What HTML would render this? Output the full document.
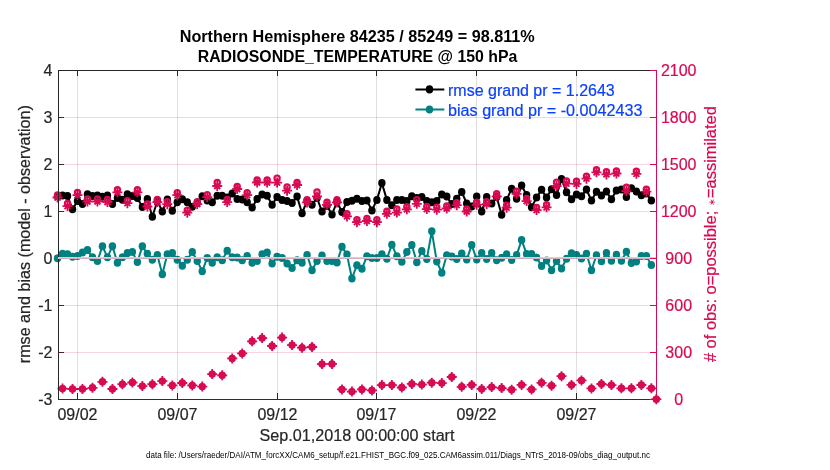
<!DOCTYPE html>
<html><head><meta charset="utf-8"><style>
html,body{margin:0;padding:0;background:#fff;width:830px;height:470px;overflow:hidden;font-family:"Liberation Sans",sans-serif}
</style></head><body>
<svg width="830" height="470" viewBox="0 0 830 470" style="display:block;will-change:transform">
<rect width="830" height="470" fill="#fff"/>
<polyline points="57.54,196 62.53,195.6 67.52,196.1 72.51,209.3 77.5,201 82.49,203.9 87.48,194.3 92.47,196.1 97.46,195.5 102.45,196.7 107.44,195.5 112.43,203.9 117.42,197.9 122.41,199.7 127.4,194.3 132.39,196.1 137.38,197.9 142.37,206.9 147.36,198.9 152.35,216.7 157.34,201 162.33,211.4 167.32,199.6 172.31,210.8 177.3,202.3 182.29,199.3 187.28,202.3 192.27,206.8 197.26,203 202.25,196.3 207.24,200.5 212.23,202.3 217.22,195.7 222.21,195.7 227.2,197.5 232.19,193.5 237.18,199.1 242.17,199.4 247.16,202.3 252.15,207.5 257.14,199.1 262.13,194.5 267.12,195.7 272.11,204.7 277.1,196.9 282.09,199.9 287.08,201.1 292.07,202.9 297.06,196.6 302.05,213.2 307.04,201 312.03,204.7 317.02,198 322.01,211.6 327,206 331.99,214.4 336.98,202 341.97,212 346.96,202 351.95,200.8 356.94,198.7 361.93,201.1 366.92,200.5 371.91,210.4 376.9,199.9 381.89,183.1 386.88,199.9 391.87,205.3 396.86,199.9 401.85,199.9 406.84,201.1 411.83,196.3 416.82,198.1 421.81,197 426.8,201.1 431.79,202.3 436.78,201.1 441.77,194.5 446.76,196.6 451.75,204.1 456.74,198.7 461.73,191.9 466.72,203.5 471.71,206.6 476.7,196.6 481.69,211.4 486.68,196.9 491.67,203.5 496.66,197 501.65,214.7 506.64,199.9 511.63,188.7 516.62,198.8 521.61,185.5 526.6,195 531.59,207.2 536.58,197.6 541.57,189.8 546.56,197.6 551.55,189.2 556.54,194.9 561.53,179 566.52,192.2 571.51,199.2 576.5,194.6 581.49,196.2 586.48,189.6 591.47,200.5 596.46,191.7 601.45,195.6 606.44,191.6 611.43,199.3 616.42,190.6 621.41,189.4 626.4,197 631.39,188.3 636.38,191.6 641.37,195.2 646.36,193.4 651.35,200.5" fill="none" stroke="#000" stroke-width="2" stroke-linejoin="round"/>
<g fill="#000"><ellipse cx="57.54" cy="196" rx="3.7" ry="4"/><ellipse cx="62.53" cy="195.6" rx="3.7" ry="4"/><ellipse cx="67.52" cy="196.1" rx="3.7" ry="4"/><ellipse cx="72.51" cy="209.3" rx="3.7" ry="4"/><ellipse cx="77.5" cy="201" rx="3.7" ry="4"/><ellipse cx="82.49" cy="203.9" rx="3.7" ry="4"/><ellipse cx="87.48" cy="194.3" rx="3.7" ry="4"/><ellipse cx="92.47" cy="196.1" rx="3.7" ry="4"/><ellipse cx="97.46" cy="195.5" rx="3.7" ry="4"/><ellipse cx="102.45" cy="196.7" rx="3.7" ry="4"/><ellipse cx="107.44" cy="195.5" rx="3.7" ry="4"/><ellipse cx="112.43" cy="203.9" rx="3.7" ry="4"/><ellipse cx="117.42" cy="197.9" rx="3.7" ry="4"/><ellipse cx="122.41" cy="199.7" rx="3.7" ry="4"/><ellipse cx="127.4" cy="194.3" rx="3.7" ry="4"/><ellipse cx="132.39" cy="196.1" rx="3.7" ry="4"/><ellipse cx="137.38" cy="197.9" rx="3.7" ry="4"/><ellipse cx="142.37" cy="206.9" rx="3.7" ry="4"/><ellipse cx="147.36" cy="198.9" rx="3.7" ry="4"/><ellipse cx="152.35" cy="216.7" rx="3.7" ry="4"/><ellipse cx="157.34" cy="201" rx="3.7" ry="4"/><ellipse cx="162.33" cy="211.4" rx="3.7" ry="4"/><ellipse cx="167.32" cy="199.6" rx="3.7" ry="4"/><ellipse cx="172.31" cy="210.8" rx="3.7" ry="4"/><ellipse cx="177.3" cy="202.3" rx="3.7" ry="4"/><ellipse cx="182.29" cy="199.3" rx="3.7" ry="4"/><ellipse cx="187.28" cy="202.3" rx="3.7" ry="4"/><ellipse cx="192.27" cy="206.8" rx="3.7" ry="4"/><ellipse cx="197.26" cy="203" rx="3.7" ry="4"/><ellipse cx="202.25" cy="196.3" rx="3.7" ry="4"/><ellipse cx="207.24" cy="200.5" rx="3.7" ry="4"/><ellipse cx="212.23" cy="202.3" rx="3.7" ry="4"/><ellipse cx="217.22" cy="195.7" rx="3.7" ry="4"/><ellipse cx="222.21" cy="195.7" rx="3.7" ry="4"/><ellipse cx="227.2" cy="197.5" rx="3.7" ry="4"/><ellipse cx="232.19" cy="193.5" rx="3.7" ry="4"/><ellipse cx="237.18" cy="199.1" rx="3.7" ry="4"/><ellipse cx="242.17" cy="199.4" rx="3.7" ry="4"/><ellipse cx="247.16" cy="202.3" rx="3.7" ry="4"/><ellipse cx="252.15" cy="207.5" rx="3.7" ry="4"/><ellipse cx="257.14" cy="199.1" rx="3.7" ry="4"/><ellipse cx="262.13" cy="194.5" rx="3.7" ry="4"/><ellipse cx="267.12" cy="195.7" rx="3.7" ry="4"/><ellipse cx="272.11" cy="204.7" rx="3.7" ry="4"/><ellipse cx="277.1" cy="196.9" rx="3.7" ry="4"/><ellipse cx="282.09" cy="199.9" rx="3.7" ry="4"/><ellipse cx="287.08" cy="201.1" rx="3.7" ry="4"/><ellipse cx="292.07" cy="202.9" rx="3.7" ry="4"/><ellipse cx="297.06" cy="196.6" rx="3.7" ry="4"/><ellipse cx="302.05" cy="213.2" rx="3.7" ry="4"/><ellipse cx="307.04" cy="201" rx="3.7" ry="4"/><ellipse cx="312.03" cy="204.7" rx="3.7" ry="4"/><ellipse cx="317.02" cy="198" rx="3.7" ry="4"/><ellipse cx="322.01" cy="211.6" rx="3.7" ry="4"/><ellipse cx="327" cy="206" rx="3.7" ry="4"/><ellipse cx="331.99" cy="214.4" rx="3.7" ry="4"/><ellipse cx="336.98" cy="202" rx="3.7" ry="4"/><ellipse cx="341.97" cy="212" rx="3.7" ry="4"/><ellipse cx="346.96" cy="202" rx="3.7" ry="4"/><ellipse cx="351.95" cy="200.8" rx="3.7" ry="4"/><ellipse cx="356.94" cy="198.7" rx="3.7" ry="4"/><ellipse cx="361.93" cy="201.1" rx="3.7" ry="4"/><ellipse cx="366.92" cy="200.5" rx="3.7" ry="4"/><ellipse cx="371.91" cy="210.4" rx="3.7" ry="4"/><ellipse cx="376.9" cy="199.9" rx="3.7" ry="4"/><ellipse cx="381.89" cy="183.1" rx="3.7" ry="4"/><ellipse cx="386.88" cy="199.9" rx="3.7" ry="4"/><ellipse cx="391.87" cy="205.3" rx="3.7" ry="4"/><ellipse cx="396.86" cy="199.9" rx="3.7" ry="4"/><ellipse cx="401.85" cy="199.9" rx="3.7" ry="4"/><ellipse cx="406.84" cy="201.1" rx="3.7" ry="4"/><ellipse cx="411.83" cy="196.3" rx="3.7" ry="4"/><ellipse cx="416.82" cy="198.1" rx="3.7" ry="4"/><ellipse cx="421.81" cy="197" rx="3.7" ry="4"/><ellipse cx="426.8" cy="201.1" rx="3.7" ry="4"/><ellipse cx="431.79" cy="202.3" rx="3.7" ry="4"/><ellipse cx="436.78" cy="201.1" rx="3.7" ry="4"/><ellipse cx="441.77" cy="194.5" rx="3.7" ry="4"/><ellipse cx="446.76" cy="196.6" rx="3.7" ry="4"/><ellipse cx="451.75" cy="204.1" rx="3.7" ry="4"/><ellipse cx="456.74" cy="198.7" rx="3.7" ry="4"/><ellipse cx="461.73" cy="191.9" rx="3.7" ry="4"/><ellipse cx="466.72" cy="203.5" rx="3.7" ry="4"/><ellipse cx="471.71" cy="206.6" rx="3.7" ry="4"/><ellipse cx="476.7" cy="196.6" rx="3.7" ry="4"/><ellipse cx="481.69" cy="211.4" rx="3.7" ry="4"/><ellipse cx="486.68" cy="196.9" rx="3.7" ry="4"/><ellipse cx="491.67" cy="203.5" rx="3.7" ry="4"/><ellipse cx="496.66" cy="197" rx="3.7" ry="4"/><ellipse cx="501.65" cy="214.7" rx="3.7" ry="4"/><ellipse cx="506.64" cy="199.9" rx="3.7" ry="4"/><ellipse cx="511.63" cy="188.7" rx="3.7" ry="4"/><ellipse cx="516.62" cy="198.8" rx="3.7" ry="4"/><ellipse cx="521.61" cy="185.5" rx="3.7" ry="4"/><ellipse cx="526.6" cy="195" rx="3.7" ry="4"/><ellipse cx="531.59" cy="207.2" rx="3.7" ry="4"/><ellipse cx="536.58" cy="197.6" rx="3.7" ry="4"/><ellipse cx="541.57" cy="189.8" rx="3.7" ry="4"/><ellipse cx="546.56" cy="197.6" rx="3.7" ry="4"/><ellipse cx="551.55" cy="189.2" rx="3.7" ry="4"/><ellipse cx="556.54" cy="194.9" rx="3.7" ry="4"/><ellipse cx="561.53" cy="179" rx="3.7" ry="4"/><ellipse cx="566.52" cy="192.2" rx="3.7" ry="4"/><ellipse cx="571.51" cy="199.2" rx="3.7" ry="4"/><ellipse cx="576.5" cy="194.6" rx="3.7" ry="4"/><ellipse cx="581.49" cy="196.2" rx="3.7" ry="4"/><ellipse cx="586.48" cy="189.6" rx="3.7" ry="4"/><ellipse cx="591.47" cy="200.5" rx="3.7" ry="4"/><ellipse cx="596.46" cy="191.7" rx="3.7" ry="4"/><ellipse cx="601.45" cy="195.6" rx="3.7" ry="4"/><ellipse cx="606.44" cy="191.6" rx="3.7" ry="4"/><ellipse cx="611.43" cy="199.3" rx="3.7" ry="4"/><ellipse cx="616.42" cy="190.6" rx="3.7" ry="4"/><ellipse cx="621.41" cy="189.4" rx="3.7" ry="4"/><ellipse cx="626.4" cy="197" rx="3.7" ry="4"/><ellipse cx="631.39" cy="188.3" rx="3.7" ry="4"/><ellipse cx="636.38" cy="191.6" rx="3.7" ry="4"/><ellipse cx="641.37" cy="195.2" rx="3.7" ry="4"/><ellipse cx="646.36" cy="193.4" rx="3.7" ry="4"/><ellipse cx="651.35" cy="200.5" rx="3.7" ry="4"/></g>
<polyline points="57.54,258.3 62.53,253.7 67.52,254.3 72.51,256.7 77.5,256.1 82.49,252.5 87.48,250.1 92.47,257.3 97.46,260.9 102.45,246.2 107.44,257.3 112.43,246.2 117.42,262.7 122.41,257.3 127.4,253.1 132.39,251.9 137.38,262.1 142.37,246.2 147.36,253.7 152.35,259.7 157.34,254.9 162.33,274.2 167.32,254.3 172.31,253.1 177.3,259.7 182.29,265.7 187.28,259.7 192.27,251.9 197.26,260.9 202.25,271.2 207.24,257.9 212.23,262.7 217.22,257.3 222.21,260.3 227.2,250.7 232.19,257.3 237.18,257.6 242.17,260.3 247.16,256.1 252.15,262.7 257.14,260.9 262.13,254.3 267.12,252.5 272.11,263.6 277.1,256.7 282.09,257.9 287.08,263.6 292.07,268.1 297.06,260.3 302.05,262.7 307.04,254.9 312.03,270.3 317.02,260.9 322.01,255.5 327,261 331.99,261 336.98,262.4 341.97,246.7 346.96,254.6 351.95,278.5 356.94,265.2 361.93,268.8 366.92,256.3 371.91,258.1 376.9,258.1 381.89,254.3 386.88,258.7 391.87,244.7 396.86,256.3 401.85,261.8 406.84,252.1 411.83,245 416.82,262.2 421.81,251 426.8,259 431.79,231.3 436.78,261.5 441.77,272.7 446.76,255.3 451.75,256.6 456.74,259 461.73,253.5 466.72,259.6 471.71,245.1 476.7,259.6 481.69,252.9 486.68,259 491.67,252.9 496.66,260.2 501.65,257.8 506.64,254.3 511.63,260 516.62,255.1 521.61,240.1 526.6,253.9 531.59,253.9 536.58,257.5 541.57,266 546.56,260.5 551.55,270.2 556.54,261.1 561.53,268.4 566.52,258.7 571.51,253.3 576.5,255.1 581.49,258.6 586.48,253.7 591.47,270.3 596.46,255.3 601.45,261.3 606.44,253 611.43,260.8 616.42,254.8 621.41,260.8 626.4,251.8 631.39,263.1 636.38,261.4 641.37,256 646.36,256 651.35,264.9" fill="none" stroke="#008080" stroke-width="2" stroke-linejoin="round"/>
<g fill="#008080"><ellipse cx="57.54" cy="258.3" rx="3.7" ry="4"/><ellipse cx="62.53" cy="253.7" rx="3.7" ry="4"/><ellipse cx="67.52" cy="254.3" rx="3.7" ry="4"/><ellipse cx="72.51" cy="256.7" rx="3.7" ry="4"/><ellipse cx="77.5" cy="256.1" rx="3.7" ry="4"/><ellipse cx="82.49" cy="252.5" rx="3.7" ry="4"/><ellipse cx="87.48" cy="250.1" rx="3.7" ry="4"/><ellipse cx="92.47" cy="257.3" rx="3.7" ry="4"/><ellipse cx="97.46" cy="260.9" rx="3.7" ry="4"/><ellipse cx="102.45" cy="246.2" rx="3.7" ry="4"/><ellipse cx="107.44" cy="257.3" rx="3.7" ry="4"/><ellipse cx="112.43" cy="246.2" rx="3.7" ry="4"/><ellipse cx="117.42" cy="262.7" rx="3.7" ry="4"/><ellipse cx="122.41" cy="257.3" rx="3.7" ry="4"/><ellipse cx="127.4" cy="253.1" rx="3.7" ry="4"/><ellipse cx="132.39" cy="251.9" rx="3.7" ry="4"/><ellipse cx="137.38" cy="262.1" rx="3.7" ry="4"/><ellipse cx="142.37" cy="246.2" rx="3.7" ry="4"/><ellipse cx="147.36" cy="253.7" rx="3.7" ry="4"/><ellipse cx="152.35" cy="259.7" rx="3.7" ry="4"/><ellipse cx="157.34" cy="254.9" rx="3.7" ry="4"/><ellipse cx="162.33" cy="274.2" rx="3.7" ry="4"/><ellipse cx="167.32" cy="254.3" rx="3.7" ry="4"/><ellipse cx="172.31" cy="253.1" rx="3.7" ry="4"/><ellipse cx="177.3" cy="259.7" rx="3.7" ry="4"/><ellipse cx="182.29" cy="265.7" rx="3.7" ry="4"/><ellipse cx="187.28" cy="259.7" rx="3.7" ry="4"/><ellipse cx="192.27" cy="251.9" rx="3.7" ry="4"/><ellipse cx="197.26" cy="260.9" rx="3.7" ry="4"/><ellipse cx="202.25" cy="271.2" rx="3.7" ry="4"/><ellipse cx="207.24" cy="257.9" rx="3.7" ry="4"/><ellipse cx="212.23" cy="262.7" rx="3.7" ry="4"/><ellipse cx="217.22" cy="257.3" rx="3.7" ry="4"/><ellipse cx="222.21" cy="260.3" rx="3.7" ry="4"/><ellipse cx="227.2" cy="250.7" rx="3.7" ry="4"/><ellipse cx="232.19" cy="257.3" rx="3.7" ry="4"/><ellipse cx="237.18" cy="257.6" rx="3.7" ry="4"/><ellipse cx="242.17" cy="260.3" rx="3.7" ry="4"/><ellipse cx="247.16" cy="256.1" rx="3.7" ry="4"/><ellipse cx="252.15" cy="262.7" rx="3.7" ry="4"/><ellipse cx="257.14" cy="260.9" rx="3.7" ry="4"/><ellipse cx="262.13" cy="254.3" rx="3.7" ry="4"/><ellipse cx="267.12" cy="252.5" rx="3.7" ry="4"/><ellipse cx="272.11" cy="263.6" rx="3.7" ry="4"/><ellipse cx="277.1" cy="256.7" rx="3.7" ry="4"/><ellipse cx="282.09" cy="257.9" rx="3.7" ry="4"/><ellipse cx="287.08" cy="263.6" rx="3.7" ry="4"/><ellipse cx="292.07" cy="268.1" rx="3.7" ry="4"/><ellipse cx="297.06" cy="260.3" rx="3.7" ry="4"/><ellipse cx="302.05" cy="262.7" rx="3.7" ry="4"/><ellipse cx="307.04" cy="254.9" rx="3.7" ry="4"/><ellipse cx="312.03" cy="270.3" rx="3.7" ry="4"/><ellipse cx="317.02" cy="260.9" rx="3.7" ry="4"/><ellipse cx="322.01" cy="255.5" rx="3.7" ry="4"/><ellipse cx="327" cy="261" rx="3.7" ry="4"/><ellipse cx="331.99" cy="261" rx="3.7" ry="4"/><ellipse cx="336.98" cy="262.4" rx="3.7" ry="4"/><ellipse cx="341.97" cy="246.7" rx="3.7" ry="4"/><ellipse cx="346.96" cy="254.6" rx="3.7" ry="4"/><ellipse cx="351.95" cy="278.5" rx="3.7" ry="4"/><ellipse cx="356.94" cy="265.2" rx="3.7" ry="4"/><ellipse cx="361.93" cy="268.8" rx="3.7" ry="4"/><ellipse cx="366.92" cy="256.3" rx="3.7" ry="4"/><ellipse cx="371.91" cy="258.1" rx="3.7" ry="4"/><ellipse cx="376.9" cy="258.1" rx="3.7" ry="4"/><ellipse cx="381.89" cy="254.3" rx="3.7" ry="4"/><ellipse cx="386.88" cy="258.7" rx="3.7" ry="4"/><ellipse cx="391.87" cy="244.7" rx="3.7" ry="4"/><ellipse cx="396.86" cy="256.3" rx="3.7" ry="4"/><ellipse cx="401.85" cy="261.8" rx="3.7" ry="4"/><ellipse cx="406.84" cy="252.1" rx="3.7" ry="4"/><ellipse cx="411.83" cy="245" rx="3.7" ry="4"/><ellipse cx="416.82" cy="262.2" rx="3.7" ry="4"/><ellipse cx="421.81" cy="251" rx="3.7" ry="4"/><ellipse cx="426.8" cy="259" rx="3.7" ry="4"/><ellipse cx="431.79" cy="231.3" rx="3.7" ry="4"/><ellipse cx="436.78" cy="261.5" rx="3.7" ry="4"/><ellipse cx="441.77" cy="272.7" rx="3.7" ry="4"/><ellipse cx="446.76" cy="255.3" rx="3.7" ry="4"/><ellipse cx="451.75" cy="256.6" rx="3.7" ry="4"/><ellipse cx="456.74" cy="259" rx="3.7" ry="4"/><ellipse cx="461.73" cy="253.5" rx="3.7" ry="4"/><ellipse cx="466.72" cy="259.6" rx="3.7" ry="4"/><ellipse cx="471.71" cy="245.1" rx="3.7" ry="4"/><ellipse cx="476.7" cy="259.6" rx="3.7" ry="4"/><ellipse cx="481.69" cy="252.9" rx="3.7" ry="4"/><ellipse cx="486.68" cy="259" rx="3.7" ry="4"/><ellipse cx="491.67" cy="252.9" rx="3.7" ry="4"/><ellipse cx="496.66" cy="260.2" rx="3.7" ry="4"/><ellipse cx="501.65" cy="257.8" rx="3.7" ry="4"/><ellipse cx="506.64" cy="254.3" rx="3.7" ry="4"/><ellipse cx="511.63" cy="260" rx="3.7" ry="4"/><ellipse cx="516.62" cy="255.1" rx="3.7" ry="4"/><ellipse cx="521.61" cy="240.1" rx="3.7" ry="4"/><ellipse cx="526.6" cy="253.9" rx="3.7" ry="4"/><ellipse cx="531.59" cy="253.9" rx="3.7" ry="4"/><ellipse cx="536.58" cy="257.5" rx="3.7" ry="4"/><ellipse cx="541.57" cy="266" rx="3.7" ry="4"/><ellipse cx="546.56" cy="260.5" rx="3.7" ry="4"/><ellipse cx="551.55" cy="270.2" rx="3.7" ry="4"/><ellipse cx="556.54" cy="261.1" rx="3.7" ry="4"/><ellipse cx="561.53" cy="268.4" rx="3.7" ry="4"/><ellipse cx="566.52" cy="258.7" rx="3.7" ry="4"/><ellipse cx="571.51" cy="253.3" rx="3.7" ry="4"/><ellipse cx="576.5" cy="255.1" rx="3.7" ry="4"/><ellipse cx="581.49" cy="258.6" rx="3.7" ry="4"/><ellipse cx="586.48" cy="253.7" rx="3.7" ry="4"/><ellipse cx="591.47" cy="270.3" rx="3.7" ry="4"/><ellipse cx="596.46" cy="255.3" rx="3.7" ry="4"/><ellipse cx="601.45" cy="261.3" rx="3.7" ry="4"/><ellipse cx="606.44" cy="253" rx="3.7" ry="4"/><ellipse cx="611.43" cy="260.8" rx="3.7" ry="4"/><ellipse cx="616.42" cy="254.8" rx="3.7" ry="4"/><ellipse cx="621.41" cy="260.8" rx="3.7" ry="4"/><ellipse cx="626.4" cy="251.8" rx="3.7" ry="4"/><ellipse cx="631.39" cy="263.1" rx="3.7" ry="4"/><ellipse cx="636.38" cy="261.4" rx="3.7" ry="4"/><ellipse cx="641.37" cy="256" rx="3.7" ry="4"/><ellipse cx="646.36" cy="256" rx="3.7" ry="4"/><ellipse cx="651.35" cy="264.9" rx="3.7" ry="4"/></g>
<g fill="none" stroke="#d70a53" stroke-width="2.2"><circle cx="57.54" cy="194.9" r="2.6"/><circle cx="62.53" cy="388.6" r="2.6"/><circle cx="67.52" cy="203.5" r="2.6"/><circle cx="72.51" cy="389" r="2.6"/><circle cx="77.5" cy="192.5" r="2.6"/><circle cx="82.49" cy="389" r="2.6"/><circle cx="87.48" cy="198.9" r="2.6"/><circle cx="92.47" cy="387.8" r="2.6"/><circle cx="97.46" cy="198.9" r="2.6"/><circle cx="102.45" cy="381.8" r="2.6"/><circle cx="107.44" cy="199.4" r="2.6"/><circle cx="112.43" cy="389" r="2.6"/><circle cx="117.42" cy="189.7" r="2.6"/><circle cx="122.41" cy="384.2" r="2.6"/><circle cx="127.4" cy="200.6" r="2.6"/><circle cx="132.39" cy="382.5" r="2.6"/><circle cx="137.38" cy="189.7" r="2.6"/><circle cx="142.37" cy="386.1" r="2.6"/><circle cx="147.36" cy="203.9" r="2.6"/><circle cx="152.35" cy="384.2" r="2.6"/><circle cx="157.34" cy="199.5" r="2.6"/><circle cx="162.33" cy="381.1" r="2.6"/><circle cx="167.32" cy="201.6" r="2.6"/><circle cx="172.31" cy="385.4" r="2.6"/><circle cx="177.3" cy="192.6" r="2.6"/><circle cx="182.29" cy="383" r="2.6"/><circle cx="187.28" cy="210.1" r="2.6"/><circle cx="192.27" cy="385.4" r="2.6"/><circle cx="197.26" cy="201.6" r="2.6"/><circle cx="202.25" cy="386.6" r="2.6"/><circle cx="207.24" cy="194.6" r="2.6"/><circle cx="212.23" cy="374.1" r="2.6"/><circle cx="217.22" cy="182.4" r="2.6"/><circle cx="222.21" cy="375.3" r="2.6"/><circle cx="227.2" cy="199.5" r="2.6"/><circle cx="232.19" cy="358.4" r="2.6"/><circle cx="237.18" cy="186.4" r="2.6"/><circle cx="242.17" cy="353.4" r="2.6"/><circle cx="247.16" cy="192.6" r="2.6"/><circle cx="252.15" cy="341.3" r="2.6"/><circle cx="257.14" cy="179.9" r="2.6"/><circle cx="262.13" cy="338.1" r="2.6"/><circle cx="267.12" cy="179.9" r="2.6"/><circle cx="272.11" cy="346" r="2.6"/><circle cx="277.1" cy="178.1" r="2.6"/><circle cx="282.09" cy="337.6" r="2.6"/><circle cx="287.08" cy="186.9" r="2.6"/><circle cx="292.07" cy="345.1" r="2.6"/><circle cx="297.06" cy="182.4" r="2.6"/><circle cx="302.05" cy="347.7" r="2.6"/><circle cx="307.04" cy="199.8" r="2.6"/><circle cx="312.03" cy="347" r="2.6"/><circle cx="317.02" cy="192" r="2.6"/><circle cx="322.01" cy="364.1" r="2.6"/><circle cx="327" cy="202.2" r="2.6"/><circle cx="331.99" cy="363.9" r="2.6"/><circle cx="336.98" cy="199.8" r="2.6"/><circle cx="341.97" cy="389.4" r="2.6"/><circle cx="346.96" cy="213.8" r="2.6"/><circle cx="351.95" cy="391.6" r="2.6"/><circle cx="356.94" cy="219.6" r="2.6"/><circle cx="361.93" cy="389.4" r="2.6"/><circle cx="366.92" cy="218.4" r="2.6"/><circle cx="371.91" cy="390.4" r="2.6"/><circle cx="376.9" cy="219.6" r="2.6"/><circle cx="381.89" cy="385.1" r="2.6"/><circle cx="386.88" cy="211.2" r="2.6"/><circle cx="391.87" cy="385.1" r="2.6"/><circle cx="396.86" cy="209" r="2.6"/><circle cx="401.85" cy="387.5" r="2.6"/><circle cx="406.84" cy="206.7" r="2.6"/><circle cx="411.83" cy="383.9" r="2.6"/><circle cx="416.82" cy="199.6" r="2.6"/><circle cx="421.81" cy="384.6" r="2.6"/><circle cx="426.8" cy="206.5" r="2.6"/><circle cx="431.79" cy="382.7" r="2.6"/><circle cx="436.78" cy="207.1" r="2.6"/><circle cx="441.77" cy="383.1" r="2.6"/><circle cx="446.76" cy="205.9" r="2.6"/><circle cx="451.75" cy="377" r="2.6"/><circle cx="456.74" cy="202.6" r="2.6"/><circle cx="461.73" cy="386.8" r="2.6"/><circle cx="466.72" cy="208.9" r="2.6"/><circle cx="471.71" cy="384.9" r="2.6"/><circle cx="476.7" cy="202.2" r="2.6"/><circle cx="481.69" cy="388.9" r="2.6"/><circle cx="486.68" cy="201.6" r="2.6"/><circle cx="491.67" cy="387.1" r="2.6"/><circle cx="496.66" cy="193.8" r="2.6"/><circle cx="501.65" cy="388.1" r="2.6"/><circle cx="506.64" cy="205.1" r="2.6"/><circle cx="511.63" cy="389.7" r="2.6"/><circle cx="516.62" cy="191.2" r="2.6"/><circle cx="521.61" cy="384.9" r="2.6"/><circle cx="526.6" cy="198.5" r="2.6"/><circle cx="531.59" cy="389.4" r="2.6"/><circle cx="536.58" cy="207.5" r="2.6"/><circle cx="541.57" cy="382.8" r="2.6"/><circle cx="546.56" cy="204.7" r="2.6"/><circle cx="551.55" cy="385.7" r="2.6"/><circle cx="556.54" cy="182.2" r="2.6"/><circle cx="561.53" cy="376.2" r="2.6"/><circle cx="566.52" cy="181" r="2.6"/><circle cx="571.51" cy="384.9" r="2.6"/><circle cx="576.5" cy="181.3" r="2.6"/><circle cx="581.49" cy="380.4" r="2.6"/><circle cx="586.48" cy="176.1" r="2.6"/><circle cx="591.47" cy="388.4" r="2.6"/><circle cx="596.46" cy="169.7" r="2.6"/><circle cx="601.45" cy="384" r="2.6"/><circle cx="606.44" cy="171.8" r="2.6"/><circle cx="611.43" cy="385.1" r="2.6"/><circle cx="616.42" cy="170.9" r="2.6"/><circle cx="621.41" cy="388.3" r="2.6"/><circle cx="626.4" cy="187.3" r="2.6"/><circle cx="631.39" cy="388.3" r="2.6"/><circle cx="636.38" cy="171.2" r="2.6"/><circle cx="641.37" cy="385" r="2.6"/><circle cx="646.36" cy="189.1" r="2.6"/><circle cx="651.35" cy="388.3" r="2.6"/><circle cx="656.34" cy="399.2" r="2.6"/></g>
<path d="M52.54 197.5h10M57.54 192.5v10M54.54 194.5l6 6M54.54 200.5l6 -6M57.53 388.6h10M62.53 383.6v10M59.93 386l5.2 5.2M59.93 391.2l5.2 -5.2M62.52 206.1h10M67.52 201.1v10M64.52 203.1l6 6M64.52 209.1l6 -6M67.51 389h10M72.51 384v10M69.91 386.4l5.2 5.2M69.91 391.6l5.2 -5.2M72.5 195.1h10M77.5 190.1v10M74.5 192.1l6 6M74.5 198.1l6 -6M77.49 389h10M82.49 384v10M79.89 386.4l5.2 5.2M79.89 391.6l5.2 -5.2M82.48 201.5h10M87.48 196.5v10M84.48 198.5l6 6M84.48 204.5l6 -6M87.47 387.8h10M92.47 382.8v10M89.87 385.2l5.2 5.2M89.87 390.4l5.2 -5.2M92.46 201.5h10M97.46 196.5v10M94.46 198.5l6 6M94.46 204.5l6 -6M97.45 381.8h10M102.45 376.8v10M99.85 379.2l5.2 5.2M99.85 384.4l5.2 -5.2M102.44 202h10M107.44 197v10M104.44 199l6 6M104.44 205l6 -6M107.43 389h10M112.43 384v10M109.83 386.4l5.2 5.2M109.83 391.6l5.2 -5.2M112.42 192.3h10M117.42 187.3v10M114.42 189.3l6 6M114.42 195.3l6 -6M117.41 384.2h10M122.41 379.2v10M119.81 381.6l5.2 5.2M119.81 386.8l5.2 -5.2M122.4 203.2h10M127.4 198.2v10M124.4 200.2l6 6M124.4 206.2l6 -6M127.39 382.5h10M132.39 377.5v10M129.79 379.9l5.2 5.2M129.79 385.1l5.2 -5.2M132.38 192.3h10M137.38 187.3v10M134.38 189.3l6 6M134.38 195.3l6 -6M137.37 386.1h10M142.37 381.1v10M139.77 383.5l5.2 5.2M139.77 388.7l5.2 -5.2M142.36 206.5h10M147.36 201.5v10M144.36 203.5l6 6M144.36 209.5l6 -6M147.35 384.2h10M152.35 379.2v10M149.75 381.6l5.2 5.2M149.75 386.8l5.2 -5.2M152.34 202.1h10M157.34 197.1v10M154.34 199.1l6 6M154.34 205.1l6 -6M157.33 381.1h10M162.33 376.1v10M159.73 378.5l5.2 5.2M159.73 383.7l5.2 -5.2M162.32 204.2h10M167.32 199.2v10M164.32 201.2l6 6M164.32 207.2l6 -6M167.31 385.4h10M172.31 380.4v10M169.71 382.8l5.2 5.2M169.71 388l5.2 -5.2M172.3 195.2h10M177.3 190.2v10M174.3 192.2l6 6M174.3 198.2l6 -6M177.29 383h10M182.29 378v10M179.69 380.4l5.2 5.2M179.69 385.6l5.2 -5.2M182.28 212.7h10M187.28 207.7v10M184.28 209.7l6 6M184.28 215.7l6 -6M187.27 385.4h10M192.27 380.4v10M189.67 382.8l5.2 5.2M189.67 388l5.2 -5.2M192.26 204.2h10M197.26 199.2v10M194.26 201.2l6 6M194.26 207.2l6 -6M197.25 386.6h10M202.25 381.6v10M199.65 384l5.2 5.2M199.65 389.2l5.2 -5.2M202.24 197.2h10M207.24 192.2v10M204.24 194.2l6 6M204.24 200.2l6 -6M207.23 374.1h10M212.23 369.1v10M209.63 371.5l5.2 5.2M209.63 376.7l5.2 -5.2M212.22 186h10M217.22 181v10M214.22 183l6 6M214.22 189l6 -6M217.21 375.3h10M222.21 370.3v10M219.61 372.7l5.2 5.2M219.61 377.9l5.2 -5.2M222.2 202.1h10M227.2 197.1v10M224.2 199.1l6 6M224.2 205.1l6 -6M227.19 358.4h10M232.19 353.4v10M229.59 355.8l5.2 5.2M229.59 361l5.2 -5.2M232.18 189h10M237.18 184v10M234.18 186l6 6M234.18 192l6 -6M237.17 353.4h10M242.17 348.4v10M239.57 350.8l5.2 5.2M239.57 356l5.2 -5.2M242.16 195.2h10M247.16 190.2v10M244.16 192.2l6 6M244.16 198.2l6 -6M247.15 341.3h10M252.15 336.3v10M249.55 338.7l5.2 5.2M249.55 343.9l5.2 -5.2M252.14 182.5h10M257.14 177.5v10M254.14 179.5l6 6M254.14 185.5l6 -6M257.13 338.1h10M262.13 333.1v10M259.53 335.5l5.2 5.2M259.53 340.7l5.2 -5.2M262.12 182.5h10M267.12 177.5v10M264.12 179.5l6 6M264.12 185.5l6 -6M267.11 346h10M272.11 341v10M269.51 343.4l5.2 5.2M269.51 348.6l5.2 -5.2M272.1 182.6h10M277.1 177.6v10M274.1 179.6l6 6M274.1 185.6l6 -6M277.09 337.6h10M282.09 332.6v10M279.49 335l5.2 5.2M279.49 340.2l5.2 -5.2M282.08 190.7h10M287.08 185.7v10M284.08 187.7l6 6M284.08 193.7l6 -6M287.07 345.1h10M292.07 340.1v10M289.47 342.5l5.2 5.2M289.47 347.7l5.2 -5.2M292.06 185h10M297.06 180v10M294.06 182l6 6M294.06 188l6 -6M297.05 347.7h10M302.05 342.7v10M299.45 345.1l5.2 5.2M299.45 350.3l5.2 -5.2M302.04 202.4h10M307.04 197.4v10M304.04 199.4l6 6M304.04 205.4l6 -6M307.03 347h10M312.03 342v10M309.43 344.4l5.2 5.2M309.43 349.6l5.2 -5.2M312.02 196.4h10M317.02 191.4v10M314.02 193.4l6 6M314.02 199.4l6 -6M317.01 364.1h10M322.01 359.1v10M319.41 361.5l5.2 5.2M319.41 366.7l5.2 -5.2M322 204.8h10M327 199.8v10M324 201.8l6 6M324 207.8l6 -6M326.99 363.9h10M331.99 358.9v10M329.39 361.3l5.2 5.2M329.39 366.5l5.2 -5.2M331.98 202.4h10M336.98 197.4v10M333.98 199.4l6 6M333.98 205.4l6 -6M336.97 389.4h10M341.97 384.4v10M339.37 386.8l5.2 5.2M339.37 392l5.2 -5.2M341.96 216.4h10M346.96 211.4v10M343.96 213.4l6 6M343.96 219.4l6 -6M346.95 391.6h10M351.95 386.6v10M349.35 389l5.2 5.2M349.35 394.2l5.2 -5.2M351.94 222.2h10M356.94 217.2v10M353.94 219.2l6 6M353.94 225.2l6 -6M356.93 389.4h10M361.93 384.4v10M359.33 386.8l5.2 5.2M359.33 392l5.2 -5.2M361.92 221h10M366.92 216v10M363.92 218l6 6M363.92 224l6 -6M366.91 390.4h10M371.91 385.4v10M369.31 387.8l5.2 5.2M369.31 393l5.2 -5.2M371.9 222.2h10M376.9 217.2v10M373.9 219.2l6 6M373.9 225.2l6 -6M376.89 385.1h10M381.89 380.1v10M379.29 382.5l5.2 5.2M379.29 387.7l5.2 -5.2M381.88 213.8h10M386.88 208.8v10M383.88 210.8l6 6M383.88 216.8l6 -6M386.87 385.1h10M391.87 380.1v10M389.27 382.5l5.2 5.2M389.27 387.7l5.2 -5.2M391.86 212.6h10M396.86 207.6v10M393.86 209.6l6 6M393.86 215.6l6 -6M396.85 387.5h10M401.85 382.5v10M399.25 384.9l5.2 5.2M399.25 390.1l5.2 -5.2M401.84 209.3h10M406.84 204.3v10M403.84 206.3l6 6M403.84 212.3l6 -6M406.83 383.9h10M411.83 378.9v10M409.23 381.3l5.2 5.2M409.23 386.5l5.2 -5.2M411.82 203.8h10M416.82 198.8v10M413.82 200.8l6 6M413.82 206.8l6 -6M416.81 384.6h10M421.81 379.6v10M419.21 382l5.2 5.2M419.21 387.2l5.2 -5.2M421.8 209.1h10M426.8 204.1v10M423.8 206.1l6 6M423.8 212.1l6 -6M426.79 382.7h10M431.79 377.7v10M429.19 380.1l5.2 5.2M429.19 385.3l5.2 -5.2M431.78 209.7h10M436.78 204.7v10M433.78 206.7l6 6M433.78 212.7l6 -6M436.77 383.1h10M441.77 378.1v10M439.17 380.5l5.2 5.2M439.17 385.7l5.2 -5.2M441.76 208.5h10M446.76 203.5v10M443.76 205.5l6 6M443.76 211.5l6 -6M446.75 377h10M451.75 372v10M449.15 374.4l5.2 5.2M449.15 379.6l5.2 -5.2M451.74 205.2h10M456.74 200.2v10M453.74 202.2l6 6M453.74 208.2l6 -6M456.73 386.8h10M461.73 381.8v10M459.13 384.2l5.2 5.2M459.13 389.4l5.2 -5.2M461.72 211.5h10M466.72 206.5v10M463.72 208.5l6 6M463.72 214.5l6 -6M466.71 384.9h10M471.71 379.9v10M469.11 382.3l5.2 5.2M469.11 387.5l5.2 -5.2M471.7 204.8h10M476.7 199.8v10M473.7 201.8l6 6M473.7 207.8l6 -6M476.69 388.9h10M481.69 383.9v10M479.09 386.3l5.2 5.2M479.09 391.5l5.2 -5.2M481.68 204.2h10M486.68 199.2v10M483.68 201.2l6 6M483.68 207.2l6 -6M486.67 387.1h10M491.67 382.1v10M489.07 384.5l5.2 5.2M489.07 389.7l5.2 -5.2M491.66 196.4h10M496.66 191.4v10M493.66 193.4l6 6M493.66 199.4l6 -6M496.65 388.1h10M501.65 383.1v10M499.05 385.5l5.2 5.2M499.05 390.7l5.2 -5.2M501.64 207.7h10M506.64 202.7v10M503.64 204.7l6 6M503.64 210.7l6 -6M506.63 389.7h10M511.63 384.7v10M509.03 387.1l5.2 5.2M509.03 392.3l5.2 -5.2M511.62 193.8h10M516.62 188.8v10M513.62 190.8l6 6M513.62 196.8l6 -6M516.61 384.9h10M521.61 379.9v10M519.01 382.3l5.2 5.2M519.01 387.5l5.2 -5.2M521.6 201.1h10M526.6 196.1v10M523.6 198.1l6 6M523.6 204.1l6 -6M526.59 389.4h10M531.59 384.4v10M528.99 386.8l5.2 5.2M528.99 392l5.2 -5.2M531.58 210.1h10M536.58 205.1v10M533.58 207.1l6 6M533.58 213.1l6 -6M536.57 382.8h10M541.57 377.8v10M538.97 380.2l5.2 5.2M538.97 385.4l5.2 -5.2M541.56 207.3h10M546.56 202.3v10M543.56 204.3l6 6M543.56 210.3l6 -6M546.55 385.7h10M551.55 380.7v10M548.95 383.1l5.2 5.2M548.95 388.3l5.2 -5.2M551.54 186h10M556.54 181v10M553.54 183l6 6M553.54 189l6 -6M556.53 376.2h10M561.53 371.2v10M558.93 373.6l5.2 5.2M558.93 378.8l5.2 -5.2M561.52 183.6h10M566.52 178.6v10M563.52 180.6l6 6M563.52 186.6l6 -6M566.51 384.9h10M571.51 379.9v10M568.91 382.3l5.2 5.2M568.91 387.5l5.2 -5.2M571.5 183.9h10M576.5 178.9v10M573.5 180.9l6 6M573.5 186.9l6 -6M576.49 380.4h10M581.49 375.4v10M578.89 377.8l5.2 5.2M578.89 383l5.2 -5.2M581.48 178.7h10M586.48 173.7v10M583.48 175.7l6 6M583.48 181.7l6 -6M586.47 388.4h10M591.47 383.4v10M588.87 385.8l5.2 5.2M588.87 391l5.2 -5.2M591.46 172.3h10M596.46 167.3v10M593.46 169.3l6 6M593.46 175.3l6 -6M596.45 384h10M601.45 379v10M598.85 381.4l5.2 5.2M598.85 386.6l5.2 -5.2M601.44 174.4h10M606.44 169.4v10M603.44 171.4l6 6M603.44 177.4l6 -6M606.43 385.1h10M611.43 380.1v10M608.83 382.5l5.2 5.2M608.83 387.7l5.2 -5.2M611.42 173.5h10M616.42 168.5v10M613.42 170.5l6 6M613.42 176.5l6 -6M616.41 388.3h10M621.41 383.3v10M618.81 385.7l5.2 5.2M618.81 390.9l5.2 -5.2M621.4 191.1h10M626.4 186.1v10M623.4 188.1l6 6M623.4 194.1l6 -6M626.39 388.3h10M631.39 383.3v10M628.79 385.7l5.2 5.2M628.79 390.9l5.2 -5.2M631.38 173.8h10M636.38 168.8v10M633.38 170.8l6 6M633.38 176.8l6 -6M636.37 385h10M641.37 380v10M638.77 382.4l5.2 5.2M638.77 387.6l5.2 -5.2M641.36 191.7h10M646.36 186.7v10M643.36 188.7l6 6M643.36 194.7l6 -6M646.35 388.3h10M651.35 383.3v10M648.75 385.7l5.2 5.2M648.75 390.9l5.2 -5.2M651.34 399.2h10M656.34 394.2v10M653.74 396.6l5.2 5.2M653.74 401.8l5.2 -5.2" fill="none" stroke="#d70a53" stroke-width="1.8"/>
<path d="M58.5 70V400M58 70.5H657M58 399.5H657" stroke="#262626" stroke-width="1" fill="none"/>
<path d="M58 70.5h6M58 117.5h6M58 164.5h6M58 211.5h6M58 258.5h6M58 305.5h6M58 352.5h6M58 399.5h6M77.5 70v6M77.5 393v6M177.5 70v6M177.5 393v6M277.5 70v6M277.5 393v6M376.5 70v6M376.5 393v6M476.5 70v6M476.5 393v6M576.5 70v6M576.5 393v6" stroke="#262626" stroke-width="1" fill="none"/>
<path d="M58 258H656" stroke="#d2d2d2" stroke-width="2" fill="none"/>
<path d="M77.5 71V399M177.5 71V399M277.5 71V399M376.5 71V399M476.5 71V399M576.5 71V399" stroke="#262626" stroke-opacity="0.15" stroke-width="1" fill="none"/>
<path d="M59 117.5H656M59 164.5H656M59 211.5H656M59 258.5H656M59 305.5H656M59 352.5H656M59 399.5H656" stroke="#d70a53" stroke-opacity="0.18" stroke-width="1" fill="none"/>
<path d="M656.5 70V400M650 70.5h6M650 117.5h6M650 164.5h6M650 211.5h6M650 258.5h6M650 305.5h6M650 352.5h6M650 399.5h6" stroke="#d70a53" stroke-width="1" fill="none"/>
<g font-family="Liberation Sans, sans-serif"><text x="52.5" y="76.1" text-anchor="end" font-size="16" fill="#262626" stroke="#262626" stroke-width="0.2">4</text><text x="52.5" y="123.1" text-anchor="end" font-size="16" fill="#262626" stroke="#262626" stroke-width="0.2">3</text><text x="52.5" y="170.1" text-anchor="end" font-size="16" fill="#262626" stroke="#262626" stroke-width="0.2">2</text><text x="52.5" y="217.1" text-anchor="end" font-size="16" fill="#262626" stroke="#262626" stroke-width="0.2">1</text><text x="52.5" y="264.1" text-anchor="end" font-size="16" fill="#262626" stroke="#262626" stroke-width="0.2">0</text><text x="52.5" y="311.1" text-anchor="end" font-size="16" fill="#262626" stroke="#262626" stroke-width="0.2">-1</text><text x="52.5" y="358.1" text-anchor="end" font-size="16" fill="#262626" stroke="#262626" stroke-width="0.2">-2</text><text x="52.5" y="405.1" text-anchor="end" font-size="16" fill="#262626" stroke="#262626" stroke-width="0.2">-3</text><text x="678.7" y="76.1" text-anchor="middle" font-size="16" fill="#d70a53" stroke="#d70a53" stroke-width="0.2">2100</text><text x="678.7" y="123.1" text-anchor="middle" font-size="16" fill="#d70a53" stroke="#d70a53" stroke-width="0.2">1800</text><text x="678.7" y="170.1" text-anchor="middle" font-size="16" fill="#d70a53" stroke="#d70a53" stroke-width="0.2">1500</text><text x="678.7" y="217.1" text-anchor="middle" font-size="16" fill="#d70a53" stroke="#d70a53" stroke-width="0.2">1200</text><text x="678.7" y="264.1" text-anchor="middle" font-size="16" fill="#d70a53" stroke="#d70a53" stroke-width="0.2">900</text><text x="678.7" y="311.1" text-anchor="middle" font-size="16" fill="#d70a53" stroke="#d70a53" stroke-width="0.2">600</text><text x="678.7" y="358.1" text-anchor="middle" font-size="16" fill="#d70a53" stroke="#d70a53" stroke-width="0.2">300</text><text x="678.7" y="405.1" text-anchor="middle" font-size="16" fill="#d70a53" stroke="#d70a53" stroke-width="0.2">0</text><text x="77.5" y="419.5" text-anchor="middle" font-size="16" fill="#262626" stroke="#262626" stroke-width="0.2">09/02</text><text x="177.5" y="419.5" text-anchor="middle" font-size="16" fill="#262626" stroke="#262626" stroke-width="0.2">09/07</text><text x="277.5" y="419.5" text-anchor="middle" font-size="16" fill="#262626" stroke="#262626" stroke-width="0.2">09/12</text><text x="376.5" y="419.5" text-anchor="middle" font-size="16" fill="#262626" stroke="#262626" stroke-width="0.2">09/17</text><text x="476.5" y="419.5" text-anchor="middle" font-size="16" fill="#262626" stroke="#262626" stroke-width="0.2">09/22</text><text x="576.5" y="419.5" text-anchor="middle" font-size="16" fill="#262626" stroke="#262626" stroke-width="0.2">09/27</text><text x="357" y="440.5" text-anchor="middle" font-size="16" fill="#262626" stroke="#262626" stroke-width="0.2" textLength="195" lengthAdjust="spacingAndGlyphs">Sep.01,2018 00:00:00 start</text><text x="357.2" y="41.7" text-anchor="middle" font-size="16" font-weight="bold" fill="#000" textLength="355" lengthAdjust="spacingAndGlyphs">Northern Hemisphere 84235 / 85249 = 98.811%</text><text x="357.5" y="61.7" text-anchor="middle" font-size="16" font-weight="bold" fill="#000" textLength="319.5" lengthAdjust="spacingAndGlyphs">RADIOSONDE_TEMPERATURE @ 150 hPa</text><text transform="translate(29.9,234.2) rotate(-90)" text-anchor="middle" font-size="16" fill="#262626" stroke="#262626" stroke-width="0.2" textLength="258" lengthAdjust="spacingAndGlyphs">rmse and bias (model - observation)</text><text transform="translate(715.8,234.1) rotate(-90)" text-anchor="middle" font-size="16" fill="#d70a53" stroke="#d70a53" stroke-width="0.2" textLength="256" lengthAdjust="spacingAndGlyphs"># of obs: o=possible; <tspan font-size="9" stroke-width="0" dy="-1.2">∗</tspan><tspan dy="1.2">=assimilated</tspan></text><text x="146" y="457.9" font-size="8.2" fill="#000" textLength="504" lengthAdjust="spacingAndGlyphs">data file: /Users/raeder/DAI/ATM_forcXX/CAM6_setup/f.e21.FHIST_BGC.f09_025.CAM6assim.011/Diags_NTrS_2018-09/obs_diag_output.nc</text><path d="M415.4 89.5H444.3" stroke="#000" stroke-width="2"/><ellipse cx="429.5" cy="89.4" rx="3.7" ry="4.1" fill="#000"/><path d="M415.4 109.5H444.3" stroke="#008080" stroke-width="2"/><ellipse cx="429.5" cy="109.5" rx="3.7" ry="4.1" fill="#008080"/><text x="448" y="95.9" font-size="16" fill="#0a40ff" stroke="#0a40ff" stroke-width="0.2">rmse grand pr = 1.2643</text><text x="448" y="115.8" font-size="16" fill="#0a40ff" stroke="#0a40ff" stroke-width="0.2" textLength="194.5" lengthAdjust="spacingAndGlyphs">bias grand pr = -0.0042433</text></g>
</svg>
</body></html>
